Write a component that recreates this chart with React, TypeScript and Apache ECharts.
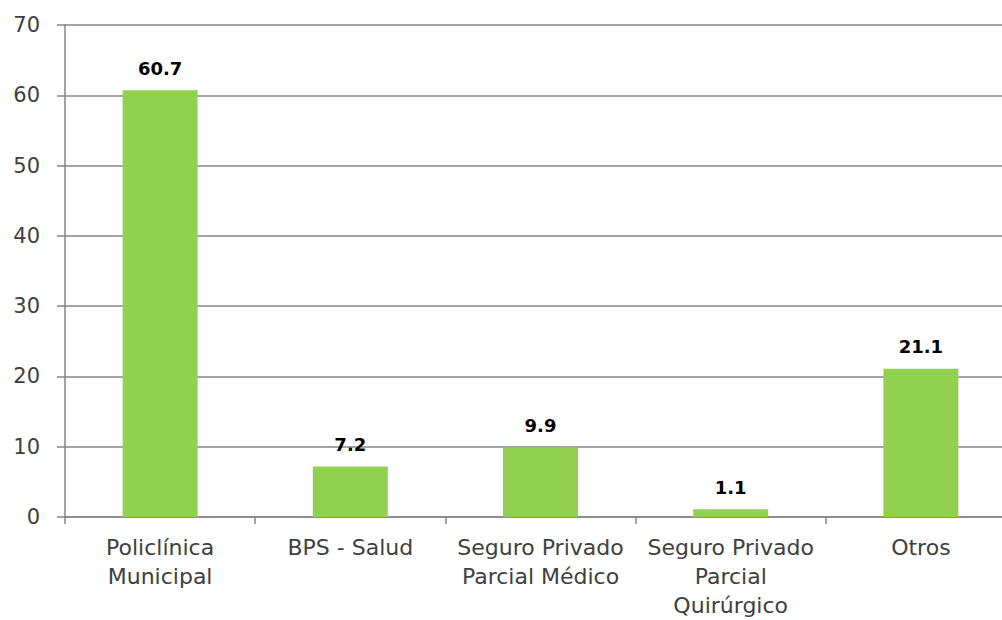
import React, { useEffect, useRef } from "react";
import * as echarts from "echarts";

const categories = [
  "Policlínica\nMunicipal",
  "BPS - Salud",
  "Seguro Privado\nParcial Médico",
  "Seguro Privado\nParcial\nQuirúrgico",
  "Otros",
];
const values = [60.7, 7.2, 9.9, 1.1, 21.1];
const yTicks = { min: 0, max: 70, interval: 10 };

export default function App() {
  const ref = useRef<HTMLDivElement>(null);
  useEffect(() => {
    if (!ref.current) return;
    const chart = echarts.init(ref.current, null, { renderer: "svg" });
    chart.setOption({
      animation: false,
      backgroundColor: "#ffffff",
      grid: { left: 65, top: 25, right: 0, bottom: 100, containLabel: false },
      xAxis: {
        type: "category",
        data: categories,
        axisLine: { show: true, lineStyle: { color: "#868686", width: 1.5 } },
        axisTick: { show: true, length: 7, lineStyle: { color: "#868686", width: 1.5 } },
        axisLabel: {
          interval: 0,
          margin: 16,
          color: "#404040",
          fontFamily: "DejaVu Sans",
          fontSize: 22,
          lineHeight: 29,
        },
      },
      yAxis: {
        type: "value",
        min: yTicks.min,
        max: yTicks.max,
        interval: yTicks.interval,
        axisLine: { show: true, lineStyle: { color: "#868686", width: 1.5 } },
        axisTick: { show: true, length: 8, lineStyle: { color: "#868686", width: 1.5 } },
        splitLine: { show: true, lineStyle: { color: "#868686", width: 1.5 } },
        axisLabel: {
          margin: 25,
          color: "#404040",
          fontFamily: "DejaVu Sans",
          fontSize: 21,
        },
      },
      series: [
        {
          type: "bar",
          data: values,
          barWidth: 75,
          itemStyle: { color: "#92D050" },
          label: {
            show: true,
            position: "top",
            distance: 13,
            color: "#000000",
            fontFamily: "DejaVu Sans",
            fontWeight: "bold",
            fontSize: 18,
            formatter: (p: any) => Number(p.value).toFixed(1),
          },
        },
      ],
    });
    return () => chart.dispose();
  }, []);
  return (
    <div
      style={{
        position: "fixed",
        left: 0,
        top: 0,
        width: 1002,
        height: 620,
        overflow: "hidden",
        background: "#ffffff",
      }}
    >
      <div ref={ref} style={{ width: 1016, height: 620 }} />
    </div>
  );
}
